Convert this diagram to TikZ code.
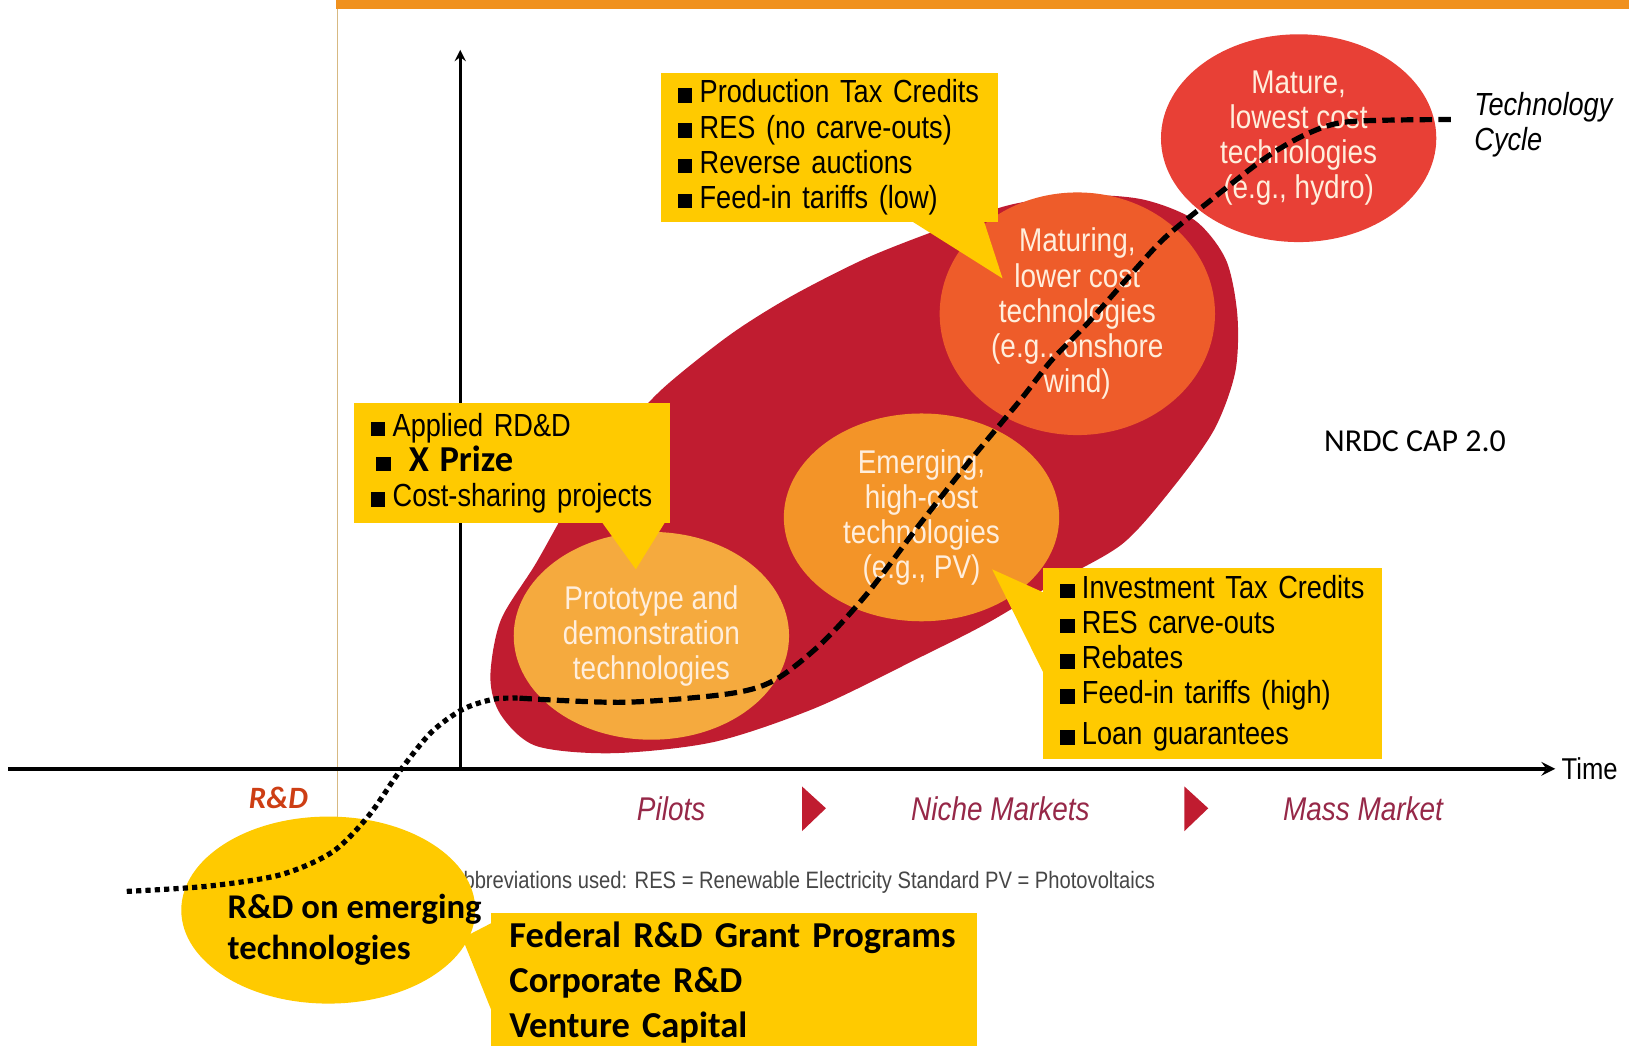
\documentclass[tikz,border=0pt]{standalone}
\usepackage{fontspec}
\setmainfont[FakeStretch=0.85]{Liberation Sans}
\newfontfamily\calfont{Carlito}
\usetikzlibrary{positioning, arrows, calc, shapes.geometric}

\definecolor{barorange}{RGB}{240,145,30}
\definecolor{rulebeige}{RGB}{215,185,130}
\definecolor{eggred}{RGB}{192,28,48}
\definecolor{protoorange}{RGB}{245,170,62}
\definecolor{emergeorange}{RGB}{243,148,40}
\definecolor{matureorange}{RGB}{238,92,42}
\definecolor{maturered}{RGB}{232,64,54}
\definecolor{boxyellow}{RGB}{255,202,0}
\definecolor{phasered}{RGB}{150,40,72}
\definecolor{rdorange}{RGB}{205,62,20}
\definecolor{stagetext}{RGB}{255,238,220}
\definecolor{abbrgray}{RGB}{70,70,70}

\newcommand{\sqbullet}{\rule{8pt}{8pt}\hspace{4pt}} % square list mark

\tikzset{
  techcycle/.style={
	x=0.2mm, y=-0.2mm, % one unit is one pixel of the layout, y grows downwards
	>=stealth, % arrow heads of the axes
	font=\fontsize{17.5}{19.3}\selectfont, % text of the policy boxes
  },
  stage/.style={ellipse, inner sep=0pt, minimum width=53mm, minimum height=40mm, align=center, text=stagetext, font=\fontsize{18}{19.3}\selectfont},
  callout/.style={fill=boxyellow, anchor=north west, align=left, inner ysep=0pt},
  pointer/.style={fill=boxyellow},
  axis/.style={->, line width=0.8mm},
  phase/.style={text=phasered, font=\fontsize{18}{20}\selectfont\itshape},
  bold/.style={font=\calfont\bfseries\fontsize{20}{24.5}\selectfont},
  dotline/.style={line width=1mm, dash pattern=on 1mm off 0.8mm},
  dashline/.style={line width=1mm, dash pattern=on 2.4mm off 1.2mm},
}

\begin{document}
\begin{tikzpicture}[techcycle]
\useasboundingbox (0,0) rectangle (1568,1006);

% frame
\fill[barorange] (323,0) rectangle (1568,9);
\draw[rulebeige, line width=0.3mm] (325,9) -- (325,792);

% axes
\coordinate (o) at (443,740);
\coordinate (xl) at (8,740);
\coordinate (xr) at (1497,740);
\coordinate (yt) at (443,48);
\draw[line width=0.8mm] (xl) -- (o);
\draw[axis] (o) -- (xr);
\draw[axis, line width=0.6mm] (o) -- (yt);
\node[right=0pt of xr, font=\fontsize{16.5}{18}\selectfont] (time) {Time};

% market space
\fill[eggred] plot[smooth cycle] coordinates {(472,652) (482,597) (516,542) (560,465) (600,415) (639,373) (703,322) (762,285) (835,248) (909,219) (973,197) (1040,188) (1100,192) (1150,212) (1180,250) (1191,303) (1189,358) (1169,413) (1130,468) (1081,523) (1017,560) (950,600) (885,633) (786,681) (688,714) (590,725) (516,718) (482,688)};

% stages
\node[stage, fill=protoorange] (proto) at (627,612) {Prototype and\\demonstration\\technologies};
\node[stage, fill=emergeorange] (emerging) at (887,498) {Emerging,\\high-cost\\technologies\\(e.g., PV)};
\node[stage, fill=matureorange] (maturing) at (1037,302) {Maturing,\\lower cost\\technologies\\(e.g., onshore\\wind)};
\node[stage, fill=maturered] (mature) at (1250,133) {Mature,\\lowest cost\\technologies\\(e.g., hydro)};

% policy boxes
\node[callout, inner xsep=3.2mm, text width=58.4mm, minimum height=28.6mm] (lowbox) at (636,70)
  {\sqbullet Production Tax Credits\\\sqbullet RES (no carve-outs)\\\sqbullet Reverse auctions\\\sqbullet Feed-in tariffs (low)};
\coordinate (lowtip) at (965,268);
\fill[pointer] ($(lowbox.south east)+(-85,-2)$) -- (lowtip) -- ($(lowbox.south east)+(-14,-2)$) -- cycle;

\node[callout, inner xsep=2.3mm, text width=56.4mm, minimum height=23mm] (earlybox) at (340,388)
  {\hspace{1mm}\sqbullet Applied RD\&D\\\hspace{2mm}\sqbullet\hspace{6pt}{\calfont\bfseries\fontsize{20}{19.3}\selectfont X Prize}\\\mbox{\hspace{1mm}\sqbullet Cost-sharing projects}};
\coordinate (earlytip) at (612,548);
\fill[pointer] ($(earlybox.south east)+(-67,-2)$) -- (earlytip) -- ($(earlybox.south east)+(-5,-2)$) -- cycle;

\node[callout, inner xsep=3.2mm, text width=58.8mm, minimum height=36.8mm] (highbox) at (1004,546)
  {\sqbullet Investment Tax Credits\\\sqbullet RES carve-outs\\\sqbullet Rebates\\\sqbullet Feed-in tariffs (high)\\[3pt]\sqbullet Loan guarantees};
\coordinate (hightip) at (955,548);
\fill[pointer] ($(highbox.north west)+(2,25)$) -- (hightip) -- ($(highbox.north west)+(2,105)$) -- cycle;

% phases along the time axis
\node[phase] (pilots) at (646,778) {Pilots};
\node[phase] (niche) at (963,778) {Niche Markets};
\node[phase] (mass) at (1312,778) {Mass Market};
\foreach \x in {772,1140}
  \fill[eggred] (\x,757) -- ++(23,21) -- ++(-23,22) -- cycle;

% labels
\node[text=rdorange, font=\calfont\bfseries\itshape\fontsize{17}{20}\selectfont] (rdlabel) at (268,768) {R\&D};
\node[font=\calfont\fontsize{17.5}{20}\selectfont] (nrdc) at (1362,425) {NRDC CAP 2.0};
\node[anchor=west, align=left, font=\fontsize{17.5}{19.5}\selectfont\itshape] (cycle) at (1413,120) {Technology\\Cycle};
\node[anchor=east, text=abbrgray, font=\fontsize{13}{14}\selectfont] (abbr) at (1118,849)
  {Abbreviations used: RES = Renewable Electricity Standard PV = Photovoltaics};

% basic research funding
\node[ellipse, fill=boxyellow, minimum width=56.6mm, minimum height=36mm, inner sep=0pt] (rd) at (316,876) {};
\node[anchor=west, align=left, font=\calfont\bfseries\fontsize{19}{22}\selectfont] (rdtext) at (213,895) {R\&D on emerging\\technologies};
\node[callout, inner xsep=3.6mm, text width=86.4mm, minimum height=27mm, bold] (grantbox) at (472,878)
  {Federal R\&D Grant Programs\\Corporate R\&D\\Venture Capital};
\coordinate (granttip) at (445,903);
\fill[pointer] ($(grantbox.north west)+(2,10)$) -- (granttip) -- ($(grantbox.north west)+(2,97)$) -- cycle;

% technology cycle
\draw[dotline] plot[smooth] coordinates {(122,858) (200,853) (270,842) (320,820) (355,785) (385,742) (415,705) (445,683) (475,673) (500,672)};
\draw[dashline] plot[smooth] coordinates {(500,672) (600,676) (700,668) (745,655) (790,620) (835,571) (885,505) (934,443) (983,384) (1012,347) (1047,311) (1086,267) (1120,230) (1160,197) (1218,152) (1260,128) (1300,117) (1400,115)};
\end{tikzpicture}
\end{document}
